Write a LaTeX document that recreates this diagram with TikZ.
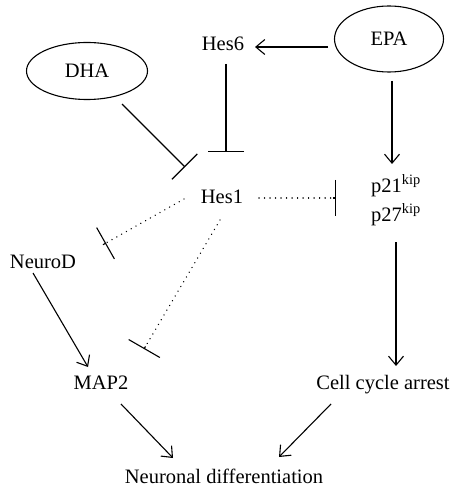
\documentclass[tikz,border=0pt]{standalone}
\usepackage{fontspec}
\setmainfont{Liberation Serif}
\usetikzlibrary{arrows.meta,shapes.geometric}
\begin{document}
\begin{tikzpicture}[x=1pt,y=-1pt,
  lbl/.style={anchor=base,inner sep=0pt,font=\fontsize{20.5}{24}\selectfont},
  oval/.style={draw,ellipse,line width=1.1pt,inner sep=0pt,font=\fontsize{20.5}{24}\selectfont},
  act/.style={line width=1.1pt,-{Straight Barb[length=9pt,width=15pt,line width=1.1pt]}},
  inh/.style={line width=1.1pt,-{Bar[width=36pt,line width=1.1pt]}},
  dot/.style={line width=1.5pt,dash pattern=on 0.01pt off 5.5pt,line cap=round}
]
\useasboundingbox (0,0) rectangle (452,486);
\node[oval,minimum width=109pt,minimum height=66pt] (EPA) at (389,39) {EPA};
\node[oval,minimum width=121pt,minimum height=57pt] (DHA) at (87,71) {DHA};
\node[lbl] (Hes6) at (223,51) {Hes6};
\node[lbl] (Hes1) at (222,204) {Hes1};
\node[lbl] (p21) at (396,192) {p21\textsuperscript{kip}};
\node[lbl] (p27) at (396,221) {p27\textsuperscript{kip}};
\node[lbl] (NeuroD) at (43,268) {NeuroD};
\node[lbl] (MAP2) at (101,389) {MAP2};
\node[lbl] (CCA) at (383,389) {Cell cycle arrest};
\node[lbl] (ND) at (224,483) {Neuronal differentiation};
% connectors
\draw[act] ([shift={(-61,8)}]EPA.center) -- ([shift={(32,-4)}]Hes6.base);
\draw[inh] ([shift={(3,13)}]Hes6.base) -- ([shift={(4,-52)}]Hes1.base);
\draw[inh] ([shift={(35,33)}]DHA.center) -- ([shift={(-37,-37)}]Hes1.base);
\draw[act] ([shift={(3,42)}]EPA.center) -- ([shift={(-4,-28)}]p21.base);
\draw[dot] ([shift={(37,-6)}]Hes1.base) -- ([shift={(-62,6)}]p21.base);
\draw[inh] ([shift={(-63,6)}]p21.base) -- ([shift={(-60,6)}]p21.base);
\draw[dot] ([shift={(-38,-5)}]Hes1.base) -- ([shift={(63,-25)}]NeuroD.base);
\draw[inh] ([shift={(60,-23.3)}]NeuroD.base) -- ([shift={(63,-25)}]NeuroD.base);
\draw[dot] ([shift={(-2,16)}]Hes1.base) -- ([shift={(43,-40)}]MAP2.base);
\draw[inh] ([shift={(44.5,-42.6)}]MAP2.base) -- ([shift={(43,-40)}]MAP2.base);
\draw[act] ([shift={(-10,5)}]NeuroD.base) -- ([shift={(-13,-22)}]MAP2.base);
\draw[act] ([shift={(0,21)}]p27.base) -- ([shift={(13,-23)}]CCA.base);
\draw[act] ([shift={(20,15)}]MAP2.base) -- ([shift={(-51,-25)}]ND.base);
\draw[act] ([shift={(-52,15)}]CCA.base) -- ([shift={(55,-26)}]ND.base);
\end{tikzpicture}
\end{document}
